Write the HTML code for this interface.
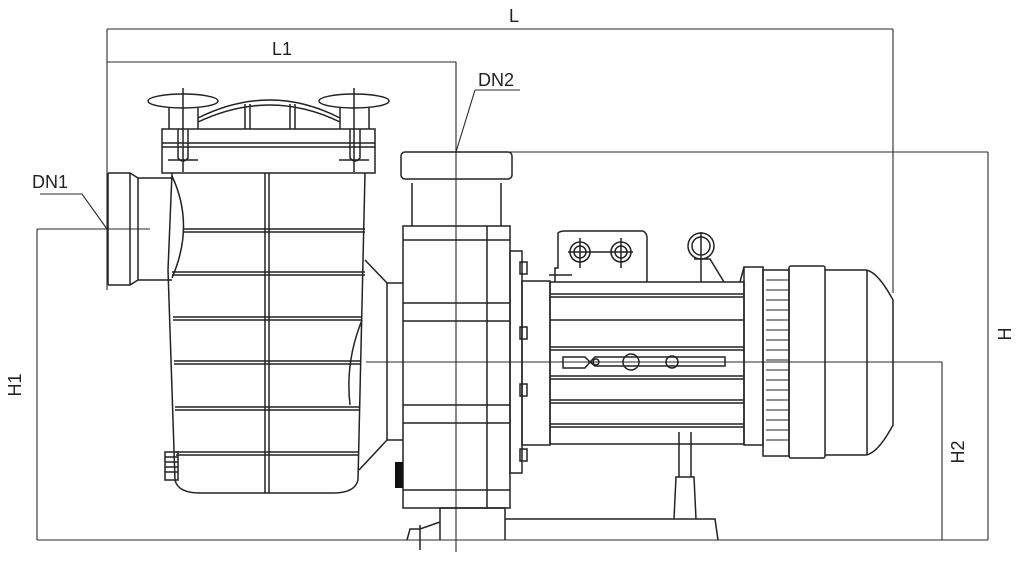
<!DOCTYPE html>
<html><head><meta charset="utf-8"><style>
html,body{margin:0;padding:0;background:#fff;}
svg{display:block}
text{font-family:"Liberation Sans",sans-serif;font-size:18px;fill:#222}
</style></head><body>
<svg width="1024" height="588" viewBox="0 0 1024 588" xmlns="http://www.w3.org/2000/svg">
<g fill="none" stroke="#2a2a2a" stroke-width="1.1">
<!-- dimension lines -->
<path d="M107 29H893M107 29V290M893 29V293"/>
<path d="M107 62H456M456 62V552"/>
<path d="M475 90H520M475 90L456 152"/>
<path d="M40 194H82L107 229"/>
<path d="M37 229H150M37 229V540"/>
<path d="M510 152H988M988 152V540"/>
<path d="M366 362H942M942 362V540"/>
<path d="M37 540H988"/>
</g>
<g fill="none" stroke="#222" stroke-width="1.5">
<!-- strainer lid & handles -->
<ellipse cx="183" cy="101" rx="35" ry="7"/>
<ellipse cx="354" cy="101" rx="35" ry="7"/>
<path d="M169 108V129M198 108V129M340 108V129M369 108V129"/>
<path d="M198 118Q270 82 340 118M198 122Q270 88 340 122M245 104V129M250 104V129M290 104V129M295 104V129"/>
<path d="M183 88V172M354 88V172M168 160H198M339 160H369"/>
<rect x="162" y="129" width="213" height="44"/>
<path d="M162 143H375M162 147H375M178 129V158Q183 164 188 158V129M350 129V158Q355 164 360 158V129"/>
<!-- inlet -->
<path d="M108 173H130L138 178H172M108 285H130L138 280H172M108 173V285M130 173V285M138 178V280"/>
<path d="M172 176Q195 225 172 278"/>
<!-- basket body -->
<path d="M172 173L168 270L175 480Q178 493 200 493H333Q355 493 358 480L365 173"/>
<path d="M265 173V493M269 173V493"/>
<path d="M184 229H365M184 232H365M172 272H365M172 275H365M173 317H362M173 320H362M174 361H360M174 364H360M175 407H360M175 410H360M176 452H359M176 455H359"/>
<path d="M365 260L387 283V440L359 470"/>
<path d="M362 320Q345 362 350 405M387 283H403M387 440H403"/>
<rect x="165" y="452" width="13" height="28"/>
<path d="M165 457H178M165 462H178M165 467H178M165 472H178"/>
<!-- volute -->
<rect x="403" y="226" width="107" height="282"/>
<path d="M487 226V508M403 240H510M403 303H510M403 321H510M403 405H510M403 423H510M403 490H510"/>
<path d="M412 183V226M501 183V226"/>
<rect x="401" y="152" width="111" height="27" rx="4"/>
<rect x="510" y="251" width="12" height="222"/>
<rect x="520" y="262" width="7" height="12"/><rect x="520" y="327" width="7" height="12"/><rect x="520" y="384" width="7" height="12"/><rect x="520" y="449" width="7" height="12"/>
<!-- base -->
<path d="M440 540V508H505V540M407 540L410 529H420L440 522M505 519H715L718 540M679 432V477M691 432V477M674 519L676 477H694L696 519M420 525V550"/>
<!-- motor -->
<rect x="522" y="281" width="28" height="164"/>
<rect x="550" y="282" width="194" height="162"/>
<path d="M550 294H744M550 297H744M550 320H744M550 347H744M550 350H744M550 376H744M550 379H744M550 400H744M550 403H744M550 424H744M550 427H744"/>
<path d="M563 357H585L590 362L595 357H725V366H595L590 362L585 368H563Z"/>
<circle cx="596" cy="362" r="3"/><circle cx="631" cy="362" r="8"/><circle cx="672" cy="362" r="6"/>
<path d="M555 282V268H558V233Q560 231 565 231H643Q647 233 647 238V282"/>
<circle cx="580" cy="252" r="10"/><circle cx="580" cy="252" r="6"/>
<circle cx="621" cy="252" r="10"/><circle cx="621" cy="252" r="6"/>
<path d="M568 252H633M580 238V268M621 238V268M549 275H572"/>
<circle cx="701" cy="246" r="13"/><circle cx="701" cy="246" r="9"/>
<path d="M701 232V282M694 259H710L724 282"/>
<rect x="744" y="267" width="19" height="178"/>
<path d="M740 282L744 267"/>
<rect x="763" y="270" width="26" height="186"/>
<path d="M766 280H789M766 290H789M766 300H789M766 310H789M766 320H789M766 330H789M766 340H789M766 350H789M766 360H789M766 370H789M766 380H789M766 390H789M766 400H789M766 410H789M766 420H789M766 430H789M766 440H789" stroke-width="1"/>
<rect x="789" y="266" width="36" height="192" rx="2"/>
<path d="M825 270H866Q878 272 893 300V425Q878 453 866 455H825M867 270V455"/>
</g>
<rect x="395" y="462" width="8" height="26" fill="#111"/>
<text x="272" y="55">L1</text>
<text x="509" y="22">L</text>
<text x="478" y="86">DN2</text>
<text x="32" y="188">DN1</text>
<text transform="translate(21,385) rotate(-90)" text-anchor="middle">H1</text>
<text transform="translate(1011,334) rotate(-90)" text-anchor="middle">H</text>
<text transform="translate(964,452) rotate(-90)" text-anchor="middle">H2</text>
</svg>
</body></html>
